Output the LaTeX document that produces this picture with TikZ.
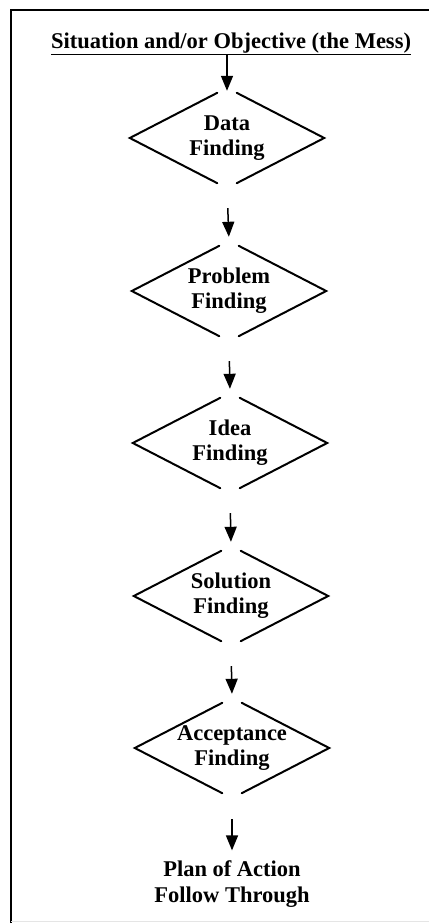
\documentclass[tikz,border=0pt]{standalone}
\usepackage{fontspec}
\setmainfont{Liberation Serif}
\usetikzlibrary{calc,positioning,arrows.meta}

\begin{document}
\begin{tikzpicture}[
    x=1pt,y=-1pt,
    >={Triangle[length=15pt,width=12pt]},
    stage/.style={rectangle,minimum width=194pt,minimum height=100pt,inner sep=0pt,
                  font=\bfseries\fontsize{22.5}{25}\selectfont,align=center},
    ttl/.style={inner sep=0pt,font=\bfseries\fontsize{22.5}{26}\selectfont,align=center},
    side/.style={line width=2pt,line cap=round},
    arr/.style={->,line width=1.5pt},
    frame/.style={line width=2.5pt}
  ]
  \useasboundingbox (0,0) rectangle (429,923);
  % frame of the scanned page
  \draw[frame] (11,923) -- (11,10) -- (429,10);
  \draw[gray!20,line width=1pt] (11,921.5) -- (429,921.5);

  \node[ttl]   (sit)  at (231,44)  {\underline{Situation and/or Objective (the Mess)}};
  \node[stage] (data) at (227,138) {Data\\Finding};
  \node[stage] (prob) at (229,291) {Problem\\Finding};
  \node[stage] (idea) at (230,443) {Idea\\Finding};
  \node[stage] (sol)  at (231,596) {Solution\\Finding};
  \node[stage] (acc)  at (232,748) {Acceptance\\Finding};
  \node[ttl]   (plan) at (232,884) {Plan of Action\\Follow Through};

  % diamonds, open at top and bottom
  \foreach \d in {data,prob,idea,sol,acc}{
    \draw[side] ($(\d.north)!0.1!(\d.west)$) -- (\d.west) -- ($(\d.south)!0.1!(\d.west)$);
    \draw[side] ($(\d.north)!0.1!(\d.east)$) -- (\d.east) -- ($(\d.south)!0.1!(\d.east)$);
  }

  \draw[arr,shorten >=-3pt]                (sit.south -| data.north) -- (data.north);
  \draw[arr,shorten <=20pt,shorten >=4pt]  (data.south) -- (prob.north);
  \draw[arr,shorten <=20pt,shorten >=4pt]  (prob.south) -- (idea.north);
  \draw[arr,shorten <=20pt,shorten >=4pt]  (idea.south) -- (sol.north);
  \draw[arr,shorten <=20pt,shorten >=4pt]  (sol.south)  -- (acc.north);
  \draw[arr,shorten <=21pt,shorten >=10pt] (acc.south)  -- (plan.north);
\end{tikzpicture}
\end{document}
